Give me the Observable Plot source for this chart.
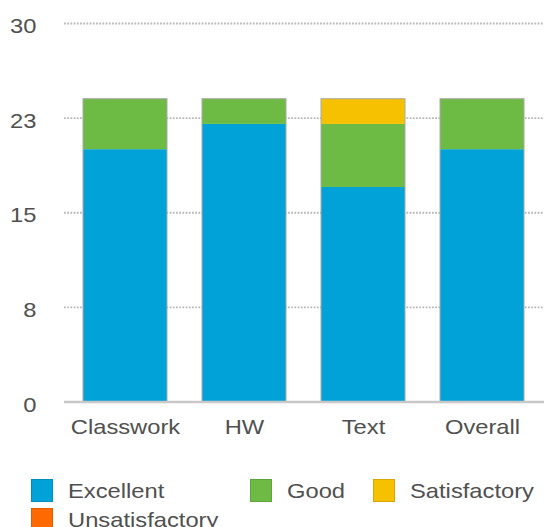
<!DOCTYPE html>
<html><head><meta charset="utf-8">
<script src="https://cdn.jsdelivr.net/npm/d3@7"></script>
<script src="https://cdn.jsdelivr.net/npm/@observablehq/plot@0.6"></script>
<style>
html,body{margin:0;padding:0;background:#fff;}
#chart{position:relative;width:544px;height:527px;overflow:hidden;font-family:"Liberation Sans",Arial,Helvetica,sans-serif;}
#chart svg{display:block;}
.legend{position:absolute;left:31px;top:479px;display:grid;grid-template-columns:219px 123px auto;row-gap:5.5px;}
.item{display:flex;align-items:center;height:23px;}
.sw{width:22px;height:23px;box-sizing:border-box;border:1px solid rgba(0,0,0,0.12);margin-right:15px;flex:none;}
.lab{display:inline-block;font-size:21px;line-height:23px;color:#505050;transform:scaleX(1.13);transform-origin:left center;white-space:nowrap;}
</style></head><body>
<div id="chart"></div>
<script>
const categories = ["Classwork", "HW", "Text", "Overall"];
const grades = ["Excellent", "Good", "Satisfactory", "Unsatisfactory"];
const excellent = [20, 22, 17, 20];
const good = [4, 2, 5, 4];
const satisfactory = [0, 0, 2, 0];
const unsatisfactory = [0, 0, 0, 0];
const gradeColors = ["#00a2d8", "#6dbb45", "#f5c100", "#ff6a00"];
const yTickValues = [0, 7.5, 15, 22.5, 30];
const yTickLabels = ["0", "8", "15", "23", "30"];

const series = [excellent, good, satisfactory, unsatisfactory];
const rows = categories.flatMap((c, i) => grades.map((g, j) => ({category: c, grade: g, value: series[j][i]})));
const totals = categories.map((c, i) => ({category: c, total: d3.sum(series, s => s[i])}));

const STRETCH = 1.13;
const plot = Plot.plot({
  width: 544, height: 455,
  marginTop: 23, marginBottom: 53.5, marginLeft: 64, marginRight: 0,
  style: {fontFamily: '"Liberation Sans", Arial, Helvetica, sans-serif', fontSize: "21px", color: "#505050", background: "#fff"},
  x: {domain: categories, paddingInner: 0.29, paddingOuter: 0.15, label: null},
  y: {domain: [0, 30], label: null},
  color: {domain: grades, range: gradeColors},
  marks: [
    Plot.ruleY(yTickValues.filter(v => v > 0), {stroke: "#b8b8b8", strokeWidth: 1.8, strokeDasharray: "1.8 1.4"}),
    Plot.barY(rows, {x: "category", y: "value", fill: "grade"}),
    Plot.barY(totals, {x: "category", y: "total", fill: "none", stroke: "#a9a9a9", strokeWidth: 1}),
    Plot.ruleY([0], {stroke: "#c8c8c8", strokeWidth: 2.5}),
    Plot.axisY({ticks: yTickValues, tickFormat: d => yTickLabels[yTickValues.indexOf(d)], tickSize: 0, tickPadding: 28, dy: 3, fill: "#505050", label: null}),
    Plot.axisX({tickSize: 0, tickPadding: 17, fill: "#505050", label: null})
  ]
});
const chart = document.getElementById("chart");
chart.appendChild(plot);
plot.querySelectorAll("text").forEach(t => {
  const L = t.getComputedTextLength();
  if (L > 0) {
    t.setAttribute("textLength", L * STRETCH);
    t.setAttribute("lengthAdjust", "spacingAndGlyphs");
  }
});

const legend = document.createElement("div");
legend.className = "legend";
grades.forEach((g, j) => {
  const item = document.createElement("div");
  item.className = "item";
  const sw = document.createElement("span");
  sw.className = "sw";
  sw.style.background = gradeColors[j];
  const lab = document.createElement("span");
  lab.className = "lab";
  lab.textContent = g;
  item.appendChild(sw);
  item.appendChild(lab);
  legend.appendChild(item);
});
chart.appendChild(legend);
</script>
</body></html>
